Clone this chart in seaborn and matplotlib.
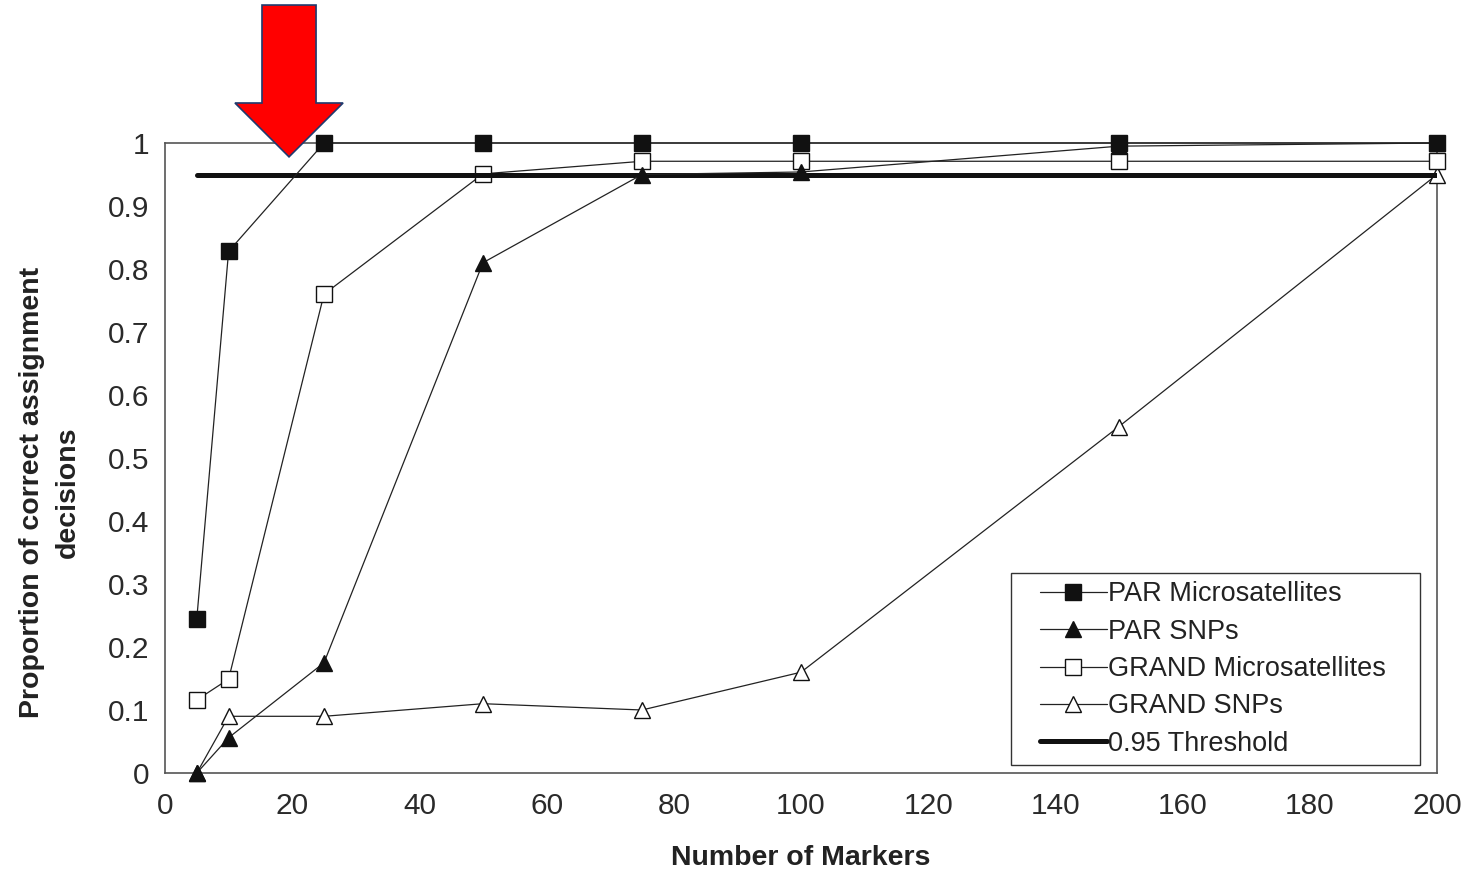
import matplotlib
matplotlib.use("Agg")
import matplotlib.pyplot as plt
import seaborn as sns
import numpy as np
from matplotlib.patches import FancyArrow, Rectangle

markers_x = [5, 10, 25, 50, 75, 100, 150, 200]
par_micro = [0.245, 0.828, 1.0, 1.0, 1.0, 1.0, 1.0, 1.0]
par_snps = [0.0, 0.056, 0.175, 0.81, 0.95, 0.954, 0.995, 1.0]
grand_micro = [0.116, 0.149, 0.76, 0.951, 0.971, 0.971, 0.971, 0.971]
grand_snps = [0.0, 0.09, 0.09, 0.11, 0.10, 0.16, 0.55, 0.95]
threshold_x = [5, 200]
threshold_y = [0.95, 0.95]
x_ticks = [0, 20, 40, 60, 80, 100, 120, 140, 160, 180, 200]
y_ticks = [0, 0.1, 0.2, 0.3, 0.4, 0.5, 0.6, 0.7, 0.8, 0.9, 1]
y_tick_labels = ["0", "0.1", "0.2", "0.3", "0.4", "0.5", "0.6", "0.7", "0.8", "0.9", "1"]

sns.set_style("white")
plt.rcParams['font.family'] = ['Liberation Sans', 'DejaVu Sans']

fig = plt.figure(figsize=(14.76, 8.69), dpi=100)
ax = fig.add_axes([165/1476, 1-773/869, (1437-165)/1476, (773-143)/869])

lc = '#222222'
common = dict(color=lc, linewidth=0.9, markersize=12, markeredgewidth=1.0,
              markeredgecolor='#111111', clip_on=False)

sns.lineplot(x=markers_x, y=grand_snps, ax=ax, marker='^', markerfacecolor='white',
             label='GRAND SNPs', zorder=3, **common)
sns.lineplot(x=markers_x, y=grand_micro, ax=ax, marker='s', markerfacecolor='white',
             label='GRAND Microsatellites', zorder=3, **common)
sns.lineplot(x=threshold_x, y=threshold_y, ax=ax, color='#111111', linewidth=3.6,
             label='0.95 Threshold', zorder=4)
sns.lineplot(x=markers_x, y=par_snps, ax=ax, marker='^', markerfacecolor='#111111',
             label='PAR SNPs', zorder=5, **common)
sns.lineplot(x=markers_x, y=par_micro, ax=ax, marker='s', markerfacecolor='#111111',
             label='PAR Microsatellites', zorder=6, **common)

ax.set_xlim(0, 200)
ax.set_ylim(0, 1)
ax.set_xticks(x_ticks)
ax.set_yticks(y_ticks)
ax.set_yticklabels(y_tick_labels)
ax.tick_params(axis='both', labelsize=21.5, direction='out')
ax.tick_params(axis='x', length=8, width=1, pad=6, colors='#555555', labelcolor='#2a2a2a')
ax.tick_params(axis='y', length=6, width=1, pad=5, colors='#555555', labelcolor='#2a2a2a')
for s in ax.spines.values():
    s.set_color('#555555')
    s.set_linewidth(1.2)

ax.set_xlabel('Number of Markers', fontsize=20.5, fontweight='bold', color='#222222', labelpad=18)
ax.set_ylabel('Proportion of correct assignment\ndecisions', fontsize=20.5, fontweight='bold',
              color='#222222', linespacing=1.5)
ax.yaxis.set_label_coords((81 - 165) / 1272, (773 - 492) / 630)

handles, labels = ax.get_legend_handles_labels()
order = ['PAR Microsatellites', 'PAR SNPs', 'GRAND Microsatellites', 'GRAND SNPs', '0.95 Threshold']
hmap = dict(zip(labels, handles))

# legend box (axes fraction)
bx0, by0 = (1011 - 165) / 1272, (773 - 765) / 630
bw, bh = (1420 - 1011) / 1272, (765 - 573) / 630
ax.add_patch(Rectangle((bx0, by0), bw, bh, transform=ax.transAxes, facecolor='white',
                       edgecolor='#333333', linewidth=1.0, zorder=7))
leg = ax.legend([hmap[o] for o in order], order, loc='center',
                bbox_to_anchor=(bx0 + bw / 2 - 0.002, by0 + bh / 2),
                fontsize=19.5, frameon=False, handlelength=2.45,
                handletextpad=0.05, labelspacing=0.42, borderpad=0.3, borderaxespad=0)
leg.set_zorder(8)
for t in leg.get_texts():
    t.set_color('#222222')

# red arrow annotation
arrow_x = 19.5
arrow_top = 1.219
arrow_tip = 0.978
arr = FancyArrow(arrow_x, arrow_top, 0, arrow_tip - arrow_top, width=8.5, head_width=17.0,
                 head_length=0.0855, length_includes_head=True, facecolor='#ff0000',
                 edgecolor='#1f3a6e', linewidth=1.2, clip_on=False, zorder=10)
ax.add_patch(arr)

fig.savefig('out.png', dpi=100)
